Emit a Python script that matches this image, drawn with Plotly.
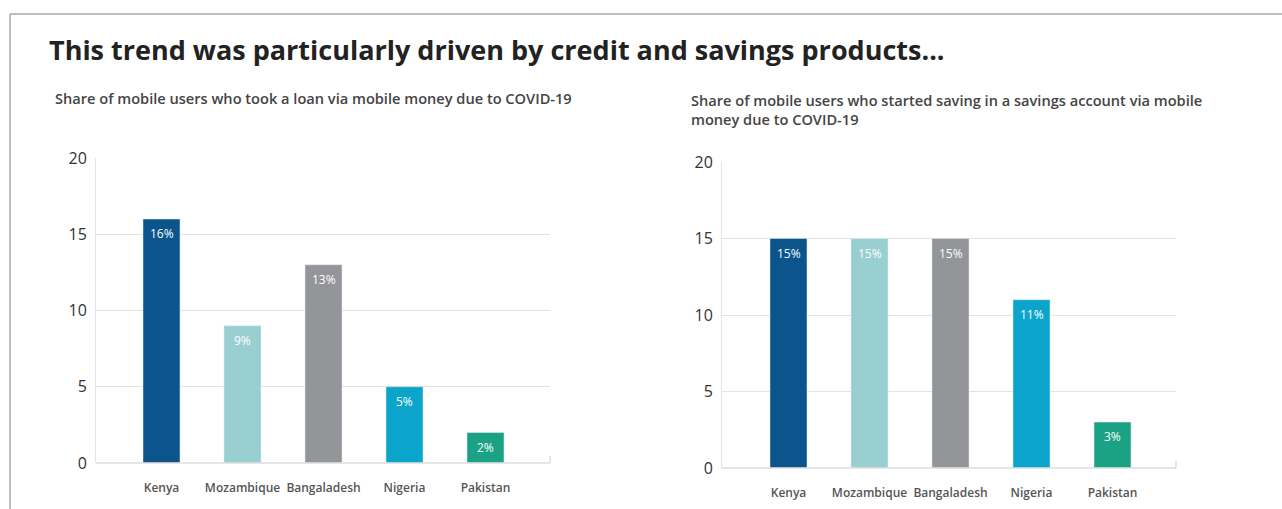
import plotly.graph_objects as go

W, H = 1282, 509

title = "This trend was particularly driven by credit and savings products..."
subtitle_loan = "Share of mobile users who took a loan via mobile money due to COVID-19"
subtitle_save = "Share of mobile users who started saving in a savings account via mobile<br>money due to COVID-19"

countries = ["Kenya", "Mozambique", "Bangaladesh", "Nigeria", "Pakistan"]
loan_values = [16, 9, 13, 5, 2]
saving_values = [15, 15, 15, 11, 3]
bar_colors = ["#0b558c", "#99cfd0", "#939598", "#0ba5cb", "#1ba284"]
y_ticks = [0, 5, 10, 15, 20]

def px_x(x):
    return x / W

def px_y(y):
    return 1 - y / H

fig = go.Figure()

fig.add_trace(go.Bar(x=countries, y=loan_values, marker_color=bar_colors,
                     width=0.457, xaxis="x", yaxis="y", hoverinfo="skip"))
fig.add_trace(go.Bar(x=countries, y=saving_values, marker_color=bar_colors,
                     width=0.457, xaxis="x2", yaxis="y2", hoverinfo="skip"))

def xrange(left, right, first_center, step=81.0):
    return [-(first_center - left) / step, (right - first_center) / step]

L1, R1 = 96, 550
L2, R2 = 722, 1176

common_x = dict(showgrid=False, zeroline=False, showline=False, ticks="",
                tickfont=dict(family="Open Sans", size=12, color="#555555", weight=600),
                ticklabelstandoff=16, fixedrange=True, automargin=False)
common_y = dict(range=[0, 20], tickvals=y_ticks, showgrid=True, gridcolor="#e3e3e3",
                gridwidth=1, zeroline=False, showline=True, linecolor="#e3e3e3",
                linewidth=1, ticks="", ticklabelstandoff=5,
                tickfont=dict(family="Open Sans", size=16, color="#333333"),
                fixedrange=True, automargin=False)

fig.update_layout(
    width=W, height=H,
    margin=dict(l=0, r=0, t=0, b=0, pad=0, autoexpand=False),
    paper_bgcolor="white", plot_bgcolor="white",
    showlegend=False,
    xaxis=dict(domain=[px_x(L1), px_x(R1)], range=xrange(L1, R1, 161.5), anchor="y", **common_x),
    yaxis=dict(domain=[px_y(463), px_y(158)], anchor="x", **common_y),
    xaxis2=dict(domain=[px_x(L2), px_x(R2)], range=xrange(L2, R2, 788.5), anchor="y2", **common_x),
    yaxis2=dict(domain=[px_y(468), px_y(162)], anchor="x2", **common_y),
)

annotations = []
for xa, ya, vals in (("x", "y", loan_values), ("x2", "y2", saving_values)):
    for c, v in zip(countries, vals):
        annotations.append(dict(x=c, y=v, xref=xa, yref=ya, text=f"{v}%",
                                showarrow=False, yanchor="top", yshift=-4,
                                font=dict(family="Open Sans", size=12, color="white")))

annotations.append(dict(x=px_x(47), y=px_y(49), xref="paper", yref="paper", text=title,
                        showarrow=False, xanchor="left", yanchor="middle",
                        font=dict(family="Open Sans", size=27, color="#222222", weight="bold")))
annotations.append(dict(x=px_x(53), y=px_y(98), xref="paper", yref="paper", text=subtitle_loan,
                        showarrow=False, xanchor="left", yanchor="middle",
                        font=dict(family="Open Sans", size=14.6, color="#444444", weight=600)))
annotations.append(dict(x=px_x(689), y=px_y(88), xref="paper", yref="paper", text=subtitle_save,
                        showarrow=False, xanchor="left", yanchor="top", align="left",
                        font=dict(family="Open Sans", size=14.6, color="#444444", weight=600)))
fig.update_layout(annotations=annotations)

shapes = [
    dict(type="line", xref="paper", yref="paper", x0=px_x(10), x1=1, y0=px_y(14), y1=px_y(14),
         line=dict(color="#a8a8a8", width=1.5)),
    dict(type="line", xref="paper", yref="paper", x0=px_x(10), x1=px_x(10), y0=0, y1=px_y(14),
         line=dict(color="#a8a8a8", width=1.5)),
    dict(type="line", xref="paper", yref="paper", x0=px_x(L1), x1=px_x(R1), y0=px_y(463), y1=px_y(463),
         line=dict(color="#dcdcdc", width=1.5)),
    dict(type="line", xref="paper", yref="paper", x0=px_x(R1), x1=px_x(R1), y0=px_y(463), y1=px_y(456),
         line=dict(color="#dcdcdc", width=1.5)),
    dict(type="line", xref="paper", yref="paper", x0=px_x(L2), x1=px_x(R2), y0=px_y(468), y1=px_y(468),
         line=dict(color="#dcdcdc", width=1.5)),
    dict(type="line", xref="paper", yref="paper", x0=px_x(R2), x1=px_x(R2), y0=px_y(468), y1=px_y(461),
         line=dict(color="#dcdcdc", width=1.5)),
]
fig.update_layout(shapes=shapes)

fig.write_html("out.html")
